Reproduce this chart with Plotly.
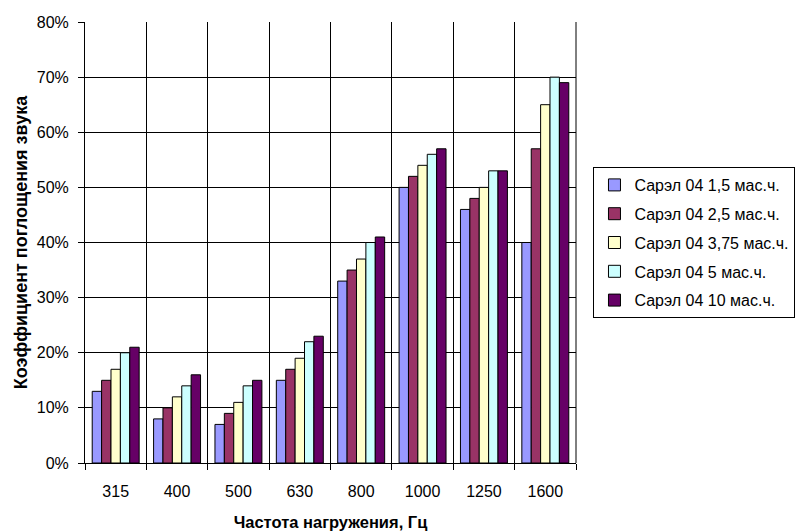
import plotly.graph_objects as go

categories = ["315", "400", "500", "630", "800", "1000", "1250", "1600"]
series_names = [
    "Сарэл 04 1,5 мас.ч.",
    "Сарэл 04 2,5 мас.ч.",
    "Сарэл 04 3,75 мас.ч.",
    "Сарэл 04 5 мас.ч.",
    "Сарэл 04 10 мас.ч.",
]
s1 = [0.13, 0.08, 0.07, 0.15, 0.33, 0.50, 0.46, 0.40]
s2 = [0.15, 0.10, 0.09, 0.17, 0.35, 0.52, 0.48, 0.57]
s3 = [0.17, 0.12, 0.11, 0.19, 0.37, 0.54, 0.50, 0.65]
s4 = [0.20, 0.14, 0.14, 0.22, 0.40, 0.56, 0.53, 0.70]
s5 = [0.21, 0.16, 0.15, 0.23, 0.41, 0.57, 0.53, 0.69]
series_values = [s1, s2, s3, s4, s5]
colors = ["#9999FF", "#993366", "#FFFFCC", "#CCFFFF", "#660066"]

fig = go.Figure()
for i, (name, vals, col) in enumerate(zip(series_names, series_values, colors)):
    fig.add_trace(go.Bar(
        x=categories, y=vals, name=name, legendgroup=f"g{i}",
        marker=dict(color=col, line=dict(color="black", width=1)),
    ))

font_family = "Liberation Sans, Arial, sans-serif"
fig.update_layout(
    width=798, height=531,
    margin=dict(l=85, r=222, t=22, b=68, autoexpand=False),
    paper_bgcolor="white", plot_bgcolor="white",
    barmode="group", bargap=0.235, bargroupgap=0,
    font=dict(family=font_family, size=16, color="black"),
    showlegend=True,
    legend=dict(
        x=1.447, y=0.5, xanchor="right", yanchor="middle",
        bordercolor="black", borderwidth=1, bgcolor="white",
        font=dict(size=16), tracegroupgap=5,
        itemwidth=30,
    ),
    xaxis=dict(
        type="category", tickson="boundaries", automargin=False,
        showgrid=True, gridcolor="black", gridwidth=1,
        showline=True, linecolor="black", linewidth=1,
        ticks="outside", ticklen=6, tickcolor="black",
        ticklabelstandoff=14,
        title=dict(text="<b>Частота нагружения, Гц</b>", font=dict(size=16.5), standoff=18),
        tickfont=dict(size=16),
    ),
    yaxis=dict(
        range=[0, 0.8], dtick=0.1, tickformat=".0%", automargin=False,
        showgrid=True, gridcolor="black", gridwidth=1,
        showline=True, linecolor="black", linewidth=1,
        ticks="outside", ticklen=6, tickcolor="black",
        ticklabelstandoff=6,
        title=dict(text="<b>Коэффициент поглощения звука</b>", font=dict(size=18), standoff=4),
        tickfont=dict(size=16),
        zeroline=False,
    ),
)
fig.add_shape(type="line", xref="paper", yref="paper", x0=1, x1=1, y0=0, y1=1,
              line=dict(color="black", width=1))

fig.write_html("out.html")
